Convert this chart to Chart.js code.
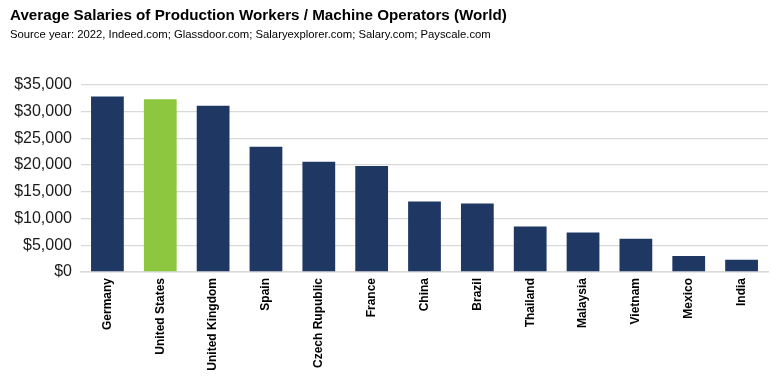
<!DOCTYPE html>
<html>
<head>
<meta charset="utf-8">
<script src="https://cdn.jsdelivr.net/npm/chart.js@4/dist/chart.umd.min.js"></script>
<style>
  html, body { margin: 0; padding: 0; background: #ffffff; }
  #wrap { width: 774px; height: 388px; position: relative; }
</style>
</head>
<body>
<div id="wrap"><canvas id="c" width="774" height="388"></canvas></div>
<script>
const titleText = "Average Salaries of Production Workers / Machine Operators (World)";
const subtitleText = "Source year: 2022, Indeed.com; Glassdoor.com; Salaryexplorer.com; Salary.com; Payscale.com";
const categories = ["Germany", "United States", "United Kingdom", "Spain", "Czech Rupublic", "France", "China", "Brazil", "Thailand", "Malaysia", "Vietnam", "Mexico", "India"];
const salaries = [32800, 32300, 31100, 23400, 20600, 19800, 13200, 12800, 8500, 7400, 6200, 3000, 2300];
const highlightCategory = "United States";
const yTicks = [0, 5000, 10000, 15000, 20000, 25000, 30000, 35000];

const navy = "#1F3763";
const green = "#8DC63F";
const barColors = categories.map(c => c === highlightCategory ? green : navy);

new Chart(document.getElementById("c"), {
  type: "bar",
  data: {
    labels: categories,
    datasets: [{
      data: salaries,
      backgroundColor: barColors,
      borderWidth: 0,
      categoryPercentage: 1.0,
      barPercentage: 0.62
    }]
  },
  options: {
    responsive: false,
    animation: false,
    layout: { padding: { left: 10, right: 6, top: 0, bottom: 0 } },
    plugins: {
      legend: { display: false },
      tooltip: { enabled: false },
      title: {
        display: true,
        text: titleText,
        align: "start",
        color: "#000000",
        font: { family: "'Liberation Sans Narrow', 'Liberation Sans', Arial", size: 15.2, weight: "bold" },
        padding: { top: 7, bottom: 3 }
      },
      subtitle: {
        display: true,
        text: subtitleText,
        align: "start",
        color: "#000000",
        font: { family: "'Liberation Sans', Arial", size: 11.3 },
        padding: { top: 0, bottom: 43 }
      }
    },
    scales: {
      x: {
        grid: { display: false, drawTicks: false },
        border: { display: true, color: "#D9D9D9", width: 1.5 },
        ticks: {
          color: "#000000",
          font: { family: "'Liberation Sans', Arial", size: 12, weight: "bold" },
          maxRotation: 90,
          minRotation: 90,
          padding: 6,
          autoSkip: false
        },
        afterFit(scale) { scale.height = 116; }
      },
      y: {
        min: 0,
        max: 35000,
        afterBuildTicks(scale) { scale.ticks = yTicks.map(v => ({ value: v })); },
        grid: { color: "#D9D9D9", lineWidth: 1.3, drawTicks: false },
        border: { display: false },
        ticks: {
          color: "#1a1a1a",
          font: { family: "'Liberation Sans', Arial", size: 16 },
          padding: 9,
          callback: v => "$" + Number(v).toLocaleString("en-US")
        },
        afterFit(scale) { scale.width = 71; }
      }
    }
  }
});
</script>
</body>
</html>
